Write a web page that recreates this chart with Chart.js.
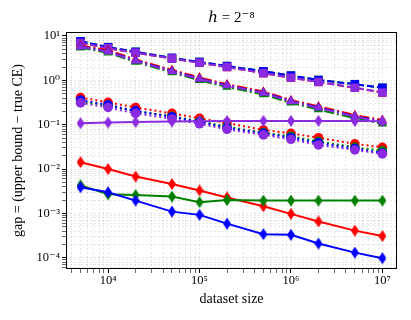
<!DOCTYPE html>
<html>
<head>
<meta charset="utf-8">
<script src="https://cdn.jsdelivr.net/npm/chart.js@4.4.1/dist/chart.umd.min.js"></script>
<style>
  html, body { margin: 0; padding: 0; background: #fff; }
  canvas { display: block; }
</style>
</head>
<body>
<canvas id="chart" width="411" height="320"></canvas>
<script>
// Dataset sizes (x axis)
const sizes = [5e3, 1e4, 2e4, 5e4, 1e5, 2e5, 5e5, 1e6, 2e6, 5e6, 1e7];

// Dashed lines, square markers
const redSquare    = [7.0, 5.3, 4.2, 3.1, 2.5, 2.0, 1.45, 1.15, 0.92, 0.68, 0.53];
const greenSquare  = [7.6, 5.6, 4.4, 3.2, 2.6, 2.1, 1.6, 1.28, 1.02, 0.82, 0.68];
const blueSquare   = [7.6, 5.6, 4.4, 3.2, 2.6, 2.1, 1.6, 1.28, 1.02, 0.82, 0.68];
const purpleSquare = [7.0, 5.3, 4.2, 3.1, 2.5, 2.0, 1.45, 1.15, 0.92, 0.68, 0.53];

// Dash-dot lines, triangle markers
const redTri    = [6.1, 4.8, 2.95, 1.72, 1.16, 0.82, 0.56, 0.36, 0.26, 0.165, 0.128];
const greenTri  = [5.4, 4.2, 2.6, 1.5, 1.0, 0.71, 0.48, 0.31, 0.22, 0.14, 0.105];
const blueTri   = [5.8, 4.5, 2.8, 1.62, 1.09, 0.77, 0.53, 0.34, 0.245, 0.155, 0.118];
const purpleTri = [5.7, 4.4, 2.75, 1.58, 1.07, 0.76, 0.52, 0.335, 0.24, 0.152, 0.116];

// Dotted lines, circle markers
const redCircle    = [0.41, 0.32, 0.245, 0.18, 0.14, 0.11, 0.076, 0.064, 0.051, 0.037, 0.031];
const greenCircle  = [0.33, 0.27, 0.2, 0.155, 0.12, 0.09, 0.066, 0.055, 0.042, 0.031, 0.026];
const blueCircle   = [0.36, 0.28, 0.205, 0.15, 0.115, 0.085, 0.064, 0.051, 0.039, 0.029, 0.023];
const purpleCircle = [0.31, 0.245, 0.18, 0.135, 0.105, 0.079, 0.059, 0.047, 0.035, 0.027, 0.022];

// Solid lines, thin diamond markers
const redDiamond    = [0.0143, 0.0100, 0.0068, 0.0046, 0.0033, 0.0023, 0.00145, 0.00098, 0.00066, 0.00041, 0.00031];
const greenDiamond  = [0.0043, 0.0027, 0.0026, 0.0024, 0.0018, 0.0020, 0.00195, 0.00195, 0.00195, 0.00195, 0.00195];
const blueDiamond   = [0.0039, 0.0030, 0.00195, 0.0011, 0.00093, 0.00059, 0.00034, 0.00033, 0.00021, 0.000131, 0.000098];
const purpleDiamond = [0.108, 0.112, 0.115, 0.118, 0.12, 0.121, 0.122, 0.122, 0.122, 0.121, 0.12];

const RED = '#ff0000', GREEN = '#008000', BLUE = '#0000ff', PURPLE = '#8a2be2';
const FONT = "'Liberation Serif', 'DejaVu Serif', serif";

const dashed  = { dash: [7, 3], marker: 'rect', radius: 6 };
const dashDot = { dash: [10, 3, 2, 3], marker: 'triangle', radius: 5.4 };
const dotted  = { dash: [2, 3], marker: 'circle', radius: 4.8 };
const solid   = { dash: [], marker: 'diamond', radius: 6 };

// matplotlib style thin diamond
function thinDiamond(color) {
  const c = document.createElement('canvas');
  c.width = 8; c.height = 12;
  const g = c.getContext('2d');
  g.fillStyle = color;
  g.beginPath();
  g.moveTo(4, 0); g.lineTo(8, 6); g.lineTo(4, 12); g.lineTo(0, 6);
  g.closePath();
  g.fill();
  return c;
}

function series(values, color, style) {
  return {
    data: sizes.map((x, i) => ({ x: x, y: values[i] })),
    borderColor: color,
    backgroundColor: color,
    borderWidth: 2,
    borderDash: style.dash,
    pointStyle: style.marker === 'diamond' ? thinDiamond(color) : style.marker,
    pointRadius: style.radius,
    pointBorderWidth: 0,
    pointBackgroundColor: color,
    fill: false,
    tension: 0
  };
}

// listed bottom to top
const datasets = [
  series(redSquare, RED, dashed),
  series(greenSquare, GREEN, dashed),
  series(blueSquare, BLUE, dashed),
  series(purpleSquare, PURPLE, dashed),
  series(redTri, RED, dashDot),
  series(greenTri, GREEN, dashDot),
  series(blueTri, BLUE, dashDot),
  series(purpleTri, PURPLE, dashDot),
  series(redCircle, RED, dotted),
  series(greenCircle, GREEN, dotted),
  series(blueCircle, BLUE, dotted),
  series(purpleCircle, PURPLE, dotted),
  series(redDiamond, RED, solid),
  series(greenDiamond, GREEN, solid),
  series(blueDiamond, BLUE, solid),
  series(purpleDiamond, PURPLE, solid)
].reverse(); // Chart.js draws dataset 0 last

// Major + minor log ticks
function logTicks(min, max) {
  const ticks = [];
  for (let e = Math.floor(Math.log10(min)); e <= Math.ceil(Math.log10(max)); e++) {
    for (let k = 1; k <= 9; k++) {
      const v = k * Math.pow(10, e);
      if (v >= min && v <= max) ticks.push({ value: v, major: k === 1 });
    }
  }
  return ticks;
}

const supDigits = { '-': '⁻', '0': '⁰', '1': '¹', '2': '²', '3': '³', '4': '⁴', '5': '⁵', '6': '⁶', '7': '⁷', '8': '⁸', '9': '⁹' };
function powLabel(v) {
  const e = Math.log10(v);
  const r = Math.round(e);
  if (Math.abs(e - r) > 1e-6) return '';
  return '10' + String(r).split('').map(c => supDigits[c]).join('');
}

const gridColor = 'rgba(0, 0, 0, 0.12)';

function axis(min, max, label, extra) {
  return Object.assign({
    type: 'logarithmic',
    min: min,
    max: max,
    afterBuildTicks: s => { s.ticks = logTicks(s.min, s.max); },
    grid: {
      color: gridColor,
      lineWidth: 0.8,
      drawTicks: true,
      tickLength: 4,
      tickColor: '#000',
      tickWidth: ctx => (ctx.tick && ctx.tick.major ? 1 : 0.6)
    },
    border: { display: false, dash: [2, 2] },
    ticks: {
      autoSkip: false,
      maxRotation: 0,
      color: '#000',
      font: { family: FONT, size: 12.5 },
      callback: v => powLabel(v)
    },
    title: {
      display: true,
      text: label,
      color: '#000',
      font: { family: FONT, size: 14 }
    }
  }, extra);
}

const xScale = axis(3467, 1.445e7, 'dataset size', {
  afterFit: s => { s.height = 51; }
});
xScale.ticks.padding = 0;
xScale.title.padding = { top: 0, bottom: 12 };

const yScale = axis(5.6e-5, 12.3, 'gap = (upper bound − true CE)', {
  afterFit: s => { s.width = 66; }
});
yScale.ticks.padding = 2;
yScale.title.padding = { top: 10, bottom: 0 };

// box around the axes
const frame = {
  id: 'frame',
  afterDatasetsDraw(chart) {
    const { ctx, chartArea: a } = chart;
    ctx.save();
    ctx.strokeStyle = '#000';
    ctx.lineWidth = 1;
    ctx.strokeRect(a.left + 0.5, a.top + 0.5, a.right - a.left - 1, a.bottom - a.top - 1);
    ctx.restore();
  }
};

new Chart(document.getElementById('chart'), {
  type: 'line',
  data: { datasets: datasets },
  plugins: [frame],
  options: {
    responsive: false,
    devicePixelRatio: 1,
    animation: false,
    events: [],
    layout: { padding: { left: 0, right: 14, top: 0, bottom: 0 } },
    plugins: {
      legend: { display: false },
      tooltip: { enabled: false },
      title: {
        display: true,
        fullSize: false,
        text: 'ℎ = 2⁻⁸',
        color: '#000',
        font: { family: FONT, size: 15, weight: 'normal' },
        padding: { top: 9, bottom: 5 }
      }
    },
    scales: { x: xScale, y: yScale }
  }
});
</script>
</body>
</html>
